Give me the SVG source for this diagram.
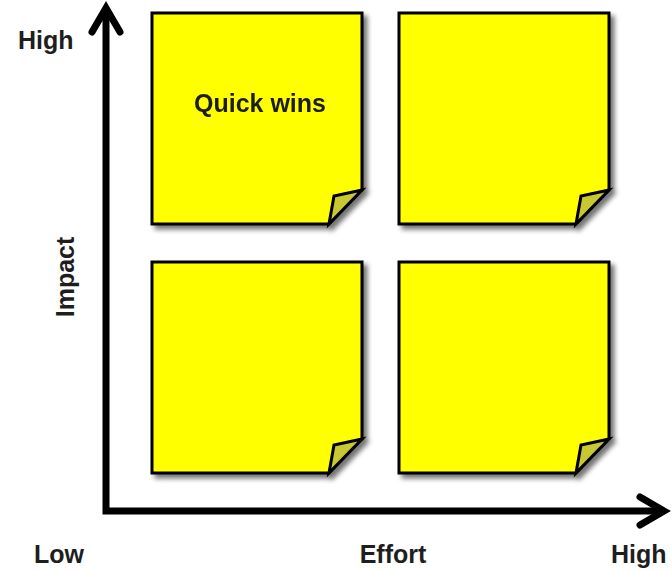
<svg xmlns="http://www.w3.org/2000/svg" width="672" height="571" viewBox="0 0 672 571">
<style>
.note{fill:#ffff00;stroke:#000;stroke-width:3;stroke-linejoin:miter}
.fold{fill:#c8c832;stroke:#000;stroke-width:3;stroke-linejoin:miter}
.lbl{font-family:"Liberation Sans",Arial,sans-serif;font-weight:bold;font-size:25px;fill:#1e1e1e}
.axis{fill:none;stroke:#000;stroke-width:7}
</style>
<defs>
<filter id="sh" x="-10%" y="-10%" width="130%" height="130%">
<feGaussianBlur in="SourceAlpha" stdDeviation="2.5"/>
<feOffset dx="4" dy="4" result="b"/>
<feComponentTransfer><feFuncA type="linear" slope="0.55"/></feComponentTransfer>
<feMerge><feMergeNode/><feMergeNode in="SourceGraphic"/></feMerge>
</filter>
<g id="notebase">
<path class="note" d="M0,0 H210 V177 L177,211 H0 Z"/>
<path class="fold" d="M210,177 L182,183 L177,211 Z"/>
</g>
</defs>
<g id="connectors">
<polyline class="axis" points="106,14 106,511 660,511" stroke-linecap="butt" stroke-linejoin="miter"/>
<polyline class="axis" points="92,32 106,8 120,32" stroke-linecap="round" stroke-linejoin="miter"/>
<polyline class="axis" points="640,497 664,511 640,525" stroke-linecap="round" stroke-linejoin="miter"/>
</g>
<g id="note-quick-wins" filter="url(#sh)">
<use href="#notebase" x="152" y="13"/>
<text class="lbl" x="260" y="112" text-anchor="middle">Quick wins</text>
</g>
<g id="note-top-right" filter="url(#sh)">
<use href="#notebase" x="399" y="13"/>
</g>
<g id="note-bottom-left" filter="url(#sh)">
<use href="#notebase" x="152" y="262"/>
</g>
<g id="note-bottom-right" filter="url(#sh)">
<use href="#notebase" x="399" y="262"/>
</g>
<g id="labels">
<text class="lbl" x="18" y="49">High</text>
<text class="lbl" x="74" y="277" text-anchor="middle" transform="rotate(-90 74 277)">Impact</text>
<text class="lbl" x="34" y="563">Low</text>
<text class="lbl" x="393" y="563" text-anchor="middle">Effort</text>
<text class="lbl" x="611" y="563">High</text>
</g>
</svg>
